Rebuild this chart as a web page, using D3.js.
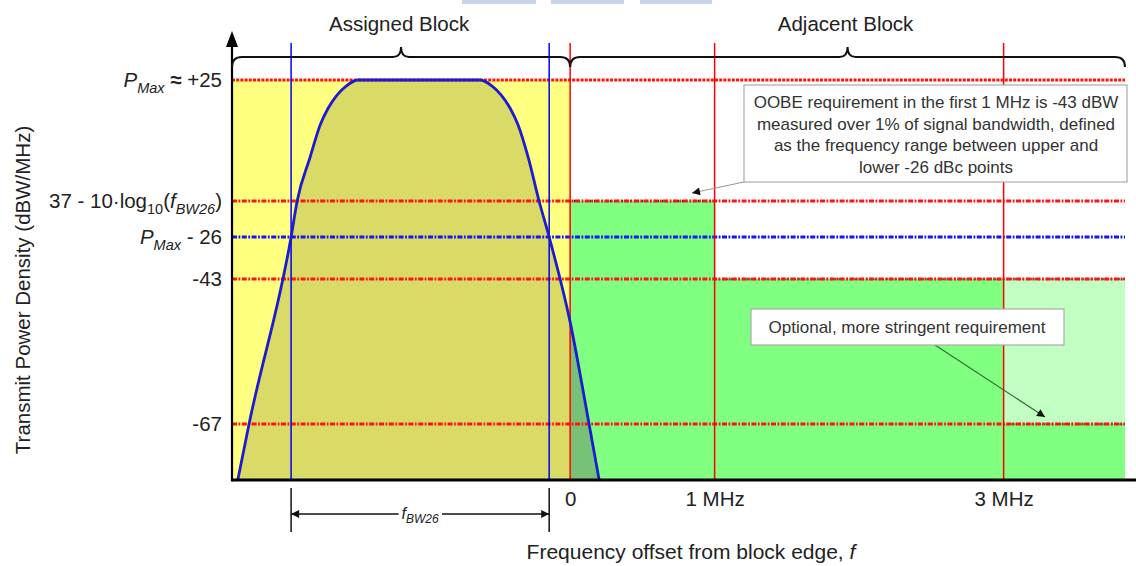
<!DOCTYPE html>
<html>
<head>
<meta charset="utf-8">
<script src="https://cdn.jsdelivr.net/npm/d3@7"></script>
<style>
  body { margin: 0; background: #fff; }
  svg { display: block; font-family: "Liberation Sans", Arial, sans-serif; }
</style>
</head>
<body>
<div id="chart"></div>
<script>
// Frequency axis (MHz offset from block edge)
var xMin = -2.34, xMax = 3.84;
var xTicks = [0, 1, 3];
var xTickLabels = ["0", "1 MHz", "3 MHz"];

// Power levels on the schematic y axis (dBW/MHz)
var levelIds = ["pmax", "oobe", "pm26", "m43", "m67"];
var levelValues = [25, 7, -1, -43, -67];
var levelLabels = [
  [{t: "P", i: 1}, {t: "Max", i: 1, sub: 1}, {t: " "}, {t: "\u2248", b: 1}, {t: " +25"}],
  [{t: "37 - 10\u00b7log"}, {t: "10", sub: 1}, {t: "("}, {t: "f", i: 1}, {t: "BW26", i: 1, sub: 1}, {t: ")"}],
  [{t: "P", i: 1}, {t: "Max", i: 1, sub: 1}, {t: " - 26"}],
  [{t: "-43"}],
  [{t: "-67"}]
];
var yFloor = -80;

// Transmitted signal spectrum
var signalMHz = [-2.30, -2.222, -1.931, -1.889, -1.799, -1.730, -1.675, -1.612, -1.550, -1.467,
                 -0.623, -0.540, -0.478, -0.415, -0.360, -0.291, -0.215, -0.145, 0, 0.131, 0.201];
var signalDb  = [-80, -67, -1, 7, 13.55, 18.3, 20.8, 22.8, 24.1, 25,
                 25, 24.1, 22.8, 20.8, 18.3, 13.55, 7, -1, -50.1, -67, -80];

// -26 dBc bandwidth edges
var bw26Edges = [-1.931, -0.145];

// OOBE mask
var maskFrom = [0, 1];
var maskTo = [1, xMax];
var maskLevel = [7, -43];
var optionalFrom = 3, optionalTop = -43, optionalBottom = -67;

var blockNames = ["Assigned Block", "Adjacent Block"];
var oobeNote = ["OOBE requirement in the first 1 MHz is -43 dBW",
                "measured over 1% of signal bandwidth, defined",
                "as the frequency range between upper and",
                "lower -26 dBc points"];
var optionalNote = "Optional, more stringent requirement";

var W = 1136, H = 566;
var left = 232, right = 1125, gridTop = 43;
var fs = 20.5;

var x = d3.scaleLinear().domain([xMin, xMax]).range([left, right]);
// schematic (non-uniform) power axis
var y = d3.scaleLinear()
  .domain([yFloor, -67, -43, -1, 7, 25])
  .range([480, 424, 279, 237, 201, 80]);
var bottom = y(yFloor);

var svg = d3.select("#chart").append("svg")
  .attr("width", W).attr("height", H);

var defs = svg.append("defs");
defs.append("marker").attr("id", "arr")
  .attr("viewBox", "0 0 10 10").attr("refX", 10).attr("refY", 5)
  .attr("markerWidth", 11).attr("markerHeight", 8).attr("markerUnits", "userSpaceOnUse")
  .attr("orient", "auto-start-reverse")
  .append("path").attr("d", "M0,0 L10,5 L0,10 Z").attr("fill", "#111");
defs.append("clipPath").attr("id", "clipL").append("rect")
  .attr("x", left).attr("y", 0).attr("width", x(0) - left).attr("height", bottom);
defs.append("clipPath").attr("id", "clipR").append("rect")
  .attr("x", x(0)).attr("y", 0).attr("width", right - x(0)).attr("height", bottom);

// header remnants
[[462, 536], [551, 624], [640, 712]].forEach(function(r) {
  svg.append("rect").attr("x", r[0]).attr("y", 0).attr("width", r[1] - r[0]).attr("height", 4)
    .attr("fill", "#c9d3ea");
});

// Assigned block background
svg.append("rect")
  .attr("x", x(xMin)).attr("y", y(25))
  .attr("width", x(0) - x(xMin)).attr("height", bottom - y(25))
  .attr("fill", "#ffff80");

// mask fills
maskFrom.forEach(function(f, i) {
  svg.append("rect")
    .attr("x", x(f)).attr("y", y(maskLevel[i]))
    .attr("width", x(maskTo[i]) - x(f)).attr("height", bottom - y(maskLevel[i]))
    .attr("fill", "#80ff80");
});
svg.append("rect")
  .attr("x", x(optionalFrom)).attr("y", y(optionalTop))
  .attr("width", x(xMax) - x(optionalFrom)).attr("height", y(optionalBottom) - y(optionalTop))
  .attr("fill", "#c2ffc2");

// signal area
var signal = signalMHz.map(function(d, i) { return [d, signalDb[i]]; });
var area = d3.area().x(function(d) { return x(d[0]); })
  .y0(bottom).y1(function(d) { return y(d[1]); }).curve(d3.curveMonotoneX);
svg.append("path").datum(signal).attr("d", area)
  .attr("fill", "#dada66").attr("clip-path", "url(#clipL)");
svg.append("path").datum(signal).attr("d", area)
  .attr("fill", "#77c277").attr("clip-path", "url(#clipR)");

// mask edges (fine black dots)
maskFrom.forEach(function(f, i) {
  svg.append("line").attr("x1", x(f)).attr("x2", x(maskTo[i]))
    .attr("y1", y(maskLevel[i])).attr("y2", y(maskLevel[i]))
    .attr("stroke", "#111").attr("stroke-width", 2.5).attr("stroke-dasharray", "1,3");
});
svg.append("line").attr("x1", x(optionalFrom)).attr("x2", x(xMax))
  .attr("y1", y(optionalBottom)).attr("y2", y(optionalBottom))
  .attr("stroke", "#111").attr("stroke-width", 2.5).attr("stroke-dasharray", "1,3");

// horizontal level lines
levelIds.forEach(function(id, i) {
  svg.append("line")
    .attr("x1", left).attr("x2", right)
    .attr("y1", y(levelValues[i])).attr("y2", y(levelValues[i]))
    .attr("stroke", id === "pm26" ? "#1414ff" : "#ff1414")
    .attr("stroke-width", 2.8)
    .attr("stroke-dasharray", id === "pmax" ? "3,1.2" : "5,1.5,1.8,1.5");
});

// vertical frequency markers
xTicks.forEach(function(t) {
  svg.append("line").attr("x1", x(t)).attr("x2", x(t))
    .attr("y1", gridTop).attr("y2", bottom)
    .attr("stroke", "#ff0000").attr("stroke-width", 1.5);
});
bw26Edges.forEach(function(t) {
  svg.append("line").attr("x1", x(t)).attr("x2", x(t))
    .attr("y1", gridTop).attr("y2", bottom)
    .attr("stroke", "#0000ff").attr("stroke-width", 1.5);
});

// signal outline
svg.append("path").datum(signal)
  .attr("d", d3.line().x(function(d) { return x(d[0]); }).y(function(d) { return y(d[1]); }).curve(d3.curveMonotoneX))
  .attr("fill", "none").attr("stroke", "#1c1cd0").attr("stroke-width", 2.8);

// axes
svg.append("line").attr("x1", left).attr("x2", W).attr("y1", bottom).attr("y2", bottom)
  .attr("stroke", "#000").attr("stroke-width", 3);
svg.append("line").attr("x1", left).attr("x2", left).attr("y1", bottom + 1.5).attr("y2", 44)
  .attr("stroke", "#000").attr("stroke-width", 2.2);
svg.append("path").attr("d", "M" + left + ",31 L" + (left + 6) + ",47 L" + (left - 6) + ",47 Z")
  .attr("fill", "#000");

var xAxis = svg.append("g").attr("transform", "translate(0," + bottom + ")")
  .call(d3.axisBottom(x).tickValues(xTicks).tickSize(0).tickPadding(11)
    .tickFormat(function(d, i) { return xTickLabels[i]; }));
xAxis.select(".domain").remove();
xAxis.selectAll("text").attr("font-size", fs).attr("fill", "#222")
  .attr("font-family", "Liberation Sans, Arial, sans-serif");

// y labels
levelIds.forEach(function(id, i) {
  var txt = svg.append("text").attr("x", 222).attr("y", y(levelValues[i]) + 7)
    .attr("text-anchor", "end").attr("font-size", fs).attr("fill", "#222");
  var shifted = false;
  levelLabels[i].forEach(function(p) {
    var ts = txt.append("tspan").text(p.t);
    if (p.i) ts.attr("font-style", "italic");
    if (p.b) ts.attr("font-weight", "bold");
    if (p.sub) {
      ts.attr("font-size", 14.5);
      if (!shifted) { ts.attr("dy", 6); shifted = true; }
    } else if (shifted) {
      ts.attr("dy", -6); shifted = false;
    }
  });
});

// axis titles
svg.append("text").attr("transform", "translate(30,290) rotate(-90)")
  .attr("text-anchor", "middle").attr("font-size", fs).attr("fill", "#222")
  .text("Transmit Power Density (dBW/MHz)");
var xt = svg.append("text").attr("x", 691).attr("y", 559)
  .attr("text-anchor", "middle").attr("font-size", 21).attr("fill", "#222");
xt.append("tspan").text("Frequency offset from block edge, ");
xt.append("tspan").attr("font-style", "italic").text("f");

// braces
function brace(x0, x1, cx, yb) {
  return "M" + x0 + "," + (yb + 10) + " Q" + x0 + "," + yb + " " + (x0 + 10) + "," + yb +
    " L" + (cx - 8) + "," + yb + " Q" + cx + "," + yb + " " + cx + "," + (yb - 10) +
    " Q" + cx + "," + yb + " " + (cx + 8) + "," + yb +
    " L" + (x1 - 10) + "," + yb + " Q" + x1 + "," + yb + " " + x1 + "," + (yb + 10);
}
var blockEdges = [[xMin, 0], [0, xMax]];
blockEdges.forEach(function(b, i) {
  var cx = (x(b[0]) + x(b[1])) / 2;
  svg.append("path").attr("d", brace(x(b[0]), x(b[1]), cx, 57))
    .attr("fill", "none").attr("stroke", "#111").attr("stroke-width", 2);
  svg.append("text").attr("x", cx - 2).attr("y", 31).attr("text-anchor", "middle")
    .attr("font-size", fs).attr("fill", "#222").text(blockNames[i]);
});

// fBW26 dimension
var dimY = 514;
bw26Edges.forEach(function(t) {
  svg.append("line").attr("x1", x(t)).attr("x2", x(t)).attr("y1", 488).attr("y2", 532)
    .attr("stroke", "#111").attr("stroke-width", 1.5);
});
svg.append("line").attr("x1", x(bw26Edges[0])).attr("x2", x(bw26Edges[1]))
  .attr("y1", dimY).attr("y2", dimY).attr("stroke", "#111").attr("stroke-width", 1.3)
  .attr("marker-start", "url(#arr)").attr("marker-end", "url(#arr)");
var dimX = (x(bw26Edges[0]) + x(bw26Edges[1])) / 2;
var dimBg = svg.append("rect").attr("fill", "#fff");
var dimT = svg.append("text").attr("x", dimX).attr("y", dimY + 5).attr("text-anchor", "middle")
  .attr("font-size", 16).attr("fill", "#222").attr("font-style", "italic");
dimT.append("tspan").text("f");
dimT.append("tspan").attr("font-size", 12).attr("dy", 4).text("BW26");
var bb = dimT.node().getBBox();
dimBg.attr("x", bb.x - 3).attr("y", bb.y).attr("width", bb.width + 6).attr("height", bb.height);

// callout 1
svg.append("line").attr("x1", 744).attr("y1", 182).attr("x2", 692).attr("y2", 193)
  .attr("stroke", "#999").attr("stroke-width", 1.2).attr("marker-end", "url(#arr)");
svg.append("rect").attr("x", 744).attr("y", 85).attr("width", 383).attr("height", 97)
  .attr("fill", "#fff").attr("stroke", "#aaa").attr("stroke-width", 1.2);
oobeNote.forEach(function(s, i) {
  svg.append("text").attr("x", 936).attr("y", 108 + i * 21.5).attr("text-anchor", "middle")
    .attr("font-size", 17).attr("fill", "#333").text(s);
});

// callout 2
svg.append("line").attr("x1", 935).attr("y1", 345).attr("x2", 1045).attr("y2", 417)
  .attr("stroke", "#336633").attr("stroke-width", 1.1).attr("marker-end", "url(#arr)");
svg.append("rect").attr("x", 751).attr("y", 309).attr("width", 313).attr("height", 36)
  .attr("fill", "#fff").attr("stroke", "#aaa").attr("stroke-width", 1.2);
svg.append("text").attr("x", 907).attr("y", 333).attr("text-anchor", "middle")
  .attr("font-size", 17).attr("fill", "#333").text(optionalNote);
</script>
</body>
</html>
